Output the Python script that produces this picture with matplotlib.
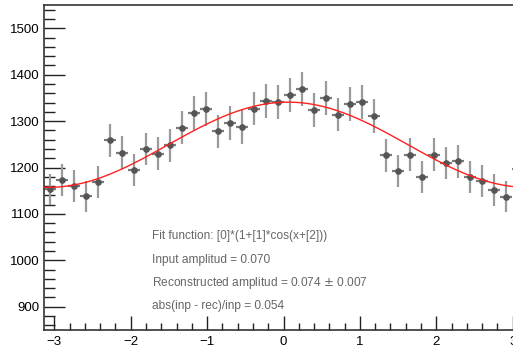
import numpy as np
import matplotlib
matplotlib.use("Agg")
import matplotlib.pyplot as plt
from matplotlib.ticker import MultipleLocator

plt.rcParams['font.family'] = ['Liberation Sans', 'DejaVu Sans']

# histogram contents, 40 bins from -pi to pi
counts = [1153, 1173, 1160, 1138, 1169, 1259, 1232, 1194, 1240, 1230,
          1248, 1286, 1318, 1326, 1278, 1296, 1287, 1327, 1344, 1342,
          1357, 1369, 1324, 1349, 1314, 1337, 1342, 1311, 1226, 1193,
          1228, 1180, 1228, 1210, 1213, 1180, 1171, 1151, 1137, 1197]
n_bins = len(counts)
edges = np.linspace(-np.pi, np.pi, n_bins + 1)
centers = 0.5 * (edges[:-1] + edges[1:])
half_w = 0.5 * (edges[1] - edges[0])
errors = np.sqrt(counts)

# fit result: [0]*(1+[1]*cos(x+[2]))
p0 = 1249.0
p1 = 0.0735
p2 = -0.06

labels = ["Fit function: [0]*(1+[1]*cos(x+[2]))",
          "Input amplitud = 0.070",
          "Reconstructed amplitud = 0.074 $\\pm$ 0.007",
          "abs(inp - rec)/inp = 0.054"]

fig = plt.figure(figsize=(5.13, 3.52), dpi=100)
ax = fig.add_axes([43.5 / 513, 22 / 352, 480 / 513, 325 / 352])

# error bars: vertical light, horizontal darker
ax.errorbar(centers, counts, yerr=errors, fmt="none", ecolor="#9a9a9a",
            elinewidth=1.6, capsize=0, zorder=2)
ax.errorbar(centers, counts, xerr=half_w, fmt="none", ecolor="#7a7a7a",
            elinewidth=1.6, capsize=0, zorder=2)
ax.plot(centers, counts, "o", color="#555555", markersize=3.8, zorder=3)

xs = np.linspace(-np.pi, np.pi, 100)
ax.plot(xs, p0 * (1 + p1 * np.cos(xs + p2)), color="#ff2020", lw=1.0, zorder=4)

ax.set_xlim(-np.pi, np.pi)
ax.set_ylim(850, 1550)

ax.xaxis.set_major_locator(MultipleLocator(1))
ax.xaxis.set_minor_locator(MultipleLocator(0.2))
ax.yaxis.set_major_locator(MultipleLocator(100))
ax.yaxis.set_minor_locator(MultipleLocator(20))
ax.tick_params(which="both", direction="in", top=False, right=False,
               labelsize=9.5, color="#222222", width=1.0)
ax.tick_params(axis="y", which="major", length=15, pad=3)
ax.tick_params(axis="y", which="minor", length=8)
ax.tick_params(axis="x", which="major", length=10, pad=4)
ax.tick_params(axis="x", which="minor", length=5)

for s in ax.spines.values():
    s.set_color("#333333")
    s.set_linewidth(1.2)

y_text = [236.5, 259.5, 283, 306.5]
for t, yp in zip(labels, y_text):
    fig.text(152 / 513, 1 - yp / 352, t, fontsize=8.6, color="#666666",
             va="center", ha="left")

fig.savefig("out.png", dpi=100)
